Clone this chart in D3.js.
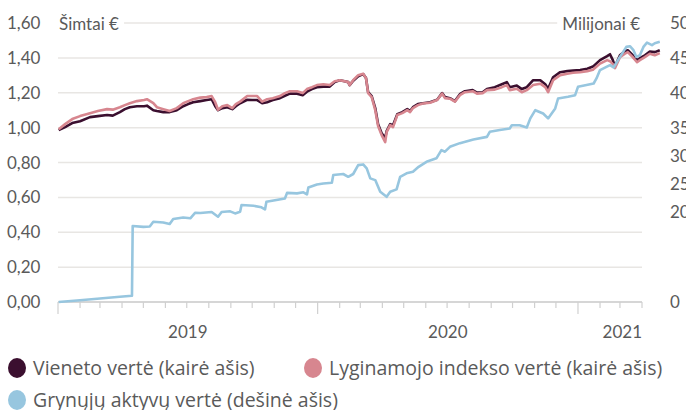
<!DOCTYPE html>
<html><head><meta charset="utf-8">
<script src="https://cdn.jsdelivr.net/npm/d3@7"></script>
<style>
html,body{margin:0;padding:0;background:#fff;}
svg{display:block;font-family:Lato, "Open Sans", sans-serif;}
</style></head>
<body>
<svg id="c" width="686" height="410"></svg>
<script>
// ---- DATA ----
const unitDates = ["2019-01-02","2019-01-11","2019-01-21","2019-02-01","2019-02-15","2019-02-26","2019-03-11","2019-03-19","2019-03-29","2019-04-05","2019-04-12","2019-04-22","2019-05-02","2019-05-06","2019-05-15","2019-05-20","2019-05-29","2019-06-07","2019-06-17","2019-06-26","2019-07-03","2019-07-10","2019-07-20","2019-07-29","2019-08-05","2019-08-10","2019-08-14","2019-08-20","2019-08-27","2019-09-03","2019-09-08","2019-09-14","2019-09-24","2019-10-01","2019-10-08","2019-10-15","2019-10-22","2019-10-30","2019-11-09","2019-11-16","2019-11-23","2019-12-03","2019-12-11","2019-12-17","2019-12-24","2019-12-31","2020-01-09","2020-01-18","2020-01-25","2020-02-01","2020-02-08","2020-02-13","2020-02-15","2020-02-20","2020-02-27","2020-03-05","2020-03-09","2020-03-12","2020-03-17","2020-03-22","2020-03-26","2020-03-31","2020-04-05","2020-04-07","2020-04-12","2020-04-16","2020-04-22","2020-04-29","2020-05-06","2020-05-10","2020-05-14","2020-05-21","2020-05-28","2020-06-07","2020-06-17","2020-06-24","2020-06-28","2020-07-05","2020-07-12","2020-07-19","2020-07-26","2020-08-06","2020-08-12","2020-08-20","2020-08-26","2020-09-06","2020-09-16","2020-09-23","2020-09-27","2020-10-07","2020-10-14","2020-10-21","2020-10-30","2020-11-09","2020-11-16","2020-11-20","2020-11-27","2020-12-07","2020-12-17","2020-12-25","2021-01-04","2021-01-14","2021-01-22","2021-02-01","2021-02-11","2021-02-15","2021-02-19","2021-02-22","2021-03-01","2021-03-08","2021-03-12","2021-03-19","2021-03-25","2021-03-29","2021-04-05","2021-04-12","2021-04-19","2021-04-26"];

const indexValues = [0.991,1.020,1.049,1.066,1.083,1.095,1.106,1.103,1.117,1.129,1.140,1.152,1.158,1.163,1.140,1.117,1.106,1.095,1.112,1.140,1.152,1.163,1.172,1.175,1.181,1.146,1.103,1.123,1.129,1.112,1.135,1.149,1.181,1.181,1.181,1.149,1.163,1.169,1.181,1.198,1.209,1.209,1.198,1.221,1.232,1.244,1.249,1.244,1.266,1.272,1.266,1.261,1.244,1.272,1.301,1.309,1.284,1.198,1.175,1.100,1.009,0.957,0.917,0.974,1.014,1.003,1.072,1.083,1.100,1.089,1.112,1.129,1.138,1.143,1.158,1.195,1.169,1.166,1.149,1.186,1.203,1.209,1.195,1.198,1.215,1.218,1.232,1.244,1.215,1.223,1.203,1.215,1.244,1.252,1.232,1.203,1.272,1.301,1.309,1.315,1.318,1.324,1.332,1.367,1.387,1.381,1.364,1.341,1.404,1.424,1.433,1.404,1.375,1.387,1.404,1.424,1.415,1.427];

const unitValues = [0.986,1.003,1.026,1.037,1.060,1.066,1.072,1.069,1.089,1.106,1.117,1.123,1.123,1.126,1.100,1.095,1.089,1.089,1.100,1.123,1.135,1.146,1.152,1.158,1.163,1.123,1.100,1.112,1.117,1.106,1.123,1.140,1.160,1.158,1.158,1.140,1.146,1.158,1.169,1.183,1.195,1.195,1.186,1.206,1.221,1.232,1.235,1.235,1.261,1.272,1.266,1.261,1.244,1.269,1.295,1.307,1.284,1.203,1.181,1.112,1.020,0.968,0.940,0.980,1.020,1.014,1.077,1.089,1.106,1.095,1.117,1.135,1.140,1.146,1.160,1.198,1.175,1.169,1.152,1.192,1.209,1.215,1.201,1.203,1.221,1.232,1.249,1.261,1.232,1.241,1.221,1.232,1.272,1.272,1.249,1.223,1.289,1.318,1.324,1.327,1.330,1.338,1.350,1.387,1.410,1.421,1.387,1.350,1.415,1.438,1.444,1.415,1.387,1.398,1.415,1.436,1.433,1.444];

const assetDates = ["2019-01-02","2019-02-01","2019-03-01","2019-03-29","2019-04-15","2019-04-16","2019-05-01","2019-05-10","2019-05-15","2019-05-29","2019-06-07","2019-06-12","2019-06-26","2019-07-06","2019-07-13","2019-07-20","2019-08-05","2019-08-14","2019-08-19","2019-08-31","2019-09-07","2019-09-14","2019-09-16","2019-10-03","2019-10-14","2019-10-19","2019-10-21","2019-11-04","2019-11-16","2019-11-19","2019-12-03","2019-12-12","2019-12-17","2019-12-19","2019-12-31","2020-01-09","2020-01-21","2020-01-23","2020-02-06","2020-02-13","2020-02-20","2020-02-27","2020-03-05","2020-03-10","2020-03-15","2020-03-22","2020-03-29","2020-04-07","2020-04-12","2020-04-21","2020-04-26","2020-05-05","2020-05-14","2020-05-22","2020-06-02","2020-06-16","2020-06-23","2020-06-28","2020-07-05","2020-07-19","2020-08-07","2020-08-26","2020-08-30","2020-09-13","2020-09-27","2020-09-30","2020-10-11","2020-10-21","2020-10-26","2020-11-02","2020-11-13","2020-11-20","2020-11-30","2020-12-04","2020-12-18","2020-12-28","2021-01-01","2021-01-13","2021-01-23","2021-01-27","2021-02-01","2021-02-10","2021-02-15","2021-02-20","2021-03-01","2021-03-10","2021-03-15","2021-03-20","2021-03-24","2021-03-29","2021-04-03","2021-04-08","2021-04-15","2021-04-19","2021-04-26"];

const assetValues = [0.000,0.010,0.020,0.030,0.036,0.436,0.431,0.433,0.460,0.456,0.447,0.476,0.485,0.480,0.512,0.510,0.516,0.489,0.516,0.520,0.508,0.517,0.556,0.552,0.543,0.531,0.575,0.585,0.594,0.626,0.623,0.629,0.617,0.657,0.674,0.680,0.684,0.728,0.734,0.718,0.734,0.785,0.789,0.766,0.709,0.699,0.632,0.603,0.632,0.646,0.718,0.738,0.747,0.775,0.804,0.824,0.871,0.862,0.890,0.911,0.932,0.947,0.976,0.986,0.995,1.014,1.014,1.001,1.053,1.100,1.081,1.053,1.110,1.167,1.177,1.186,1.234,1.244,1.253,1.282,1.330,1.348,1.358,1.345,1.406,1.463,1.467,1.444,1.406,1.415,1.463,1.487,1.473,1.484,1.492];

const leftTicks = [0, 0.2, 0.4, 0.6, 0.8, 1.0, 1.2, 1.4, 1.6];
const rightTicks = [0, 20, 25, 30, 35, 40, 45, 50];
const yearLabels = ["2019", "2020", "2021"];
const seriesNames = ["Vieneto vertė (kairė ašis)", "Lyginamojo indekso vertė (kairė ašis)", "Grynųjų aktyvų vertė (dešinė ašis)"];
const leftUnit = "Šimtai €";
const rightUnit = "Milijonai €";

// ---- CHART ----
const svg = d3.select("#c");
const parse = d3.timeParse("%Y-%m-%d");
const colors = {unit: "#3b0f2f", index: "#d7868f", assets: "#97c6df"};
const textColor = "#5a5a5a";

const x = d3.scaleTime().domain([new Date(2019,0,1), new Date(2021,3,1)]).range([58, 642]);
const y = d3.scaleLinear().domain([0, 1.6]).range([302, 23]);
const yR = d3.scaleLinear().domain([0, 20, 35, 50]).range([302, 212, 128, 23]);
const fmt = v => d3.format(".2f")(v).replace(".", ",");

// gridlines
svg.append("g").selectAll("line").data(leftTicks.filter(d => d > 0)).join("line")
  .attr("x1", x.range()[0]).attr("x2", x.range()[1])
  .attr("y1", d => y(d)).attr("y2", d => y(d))
  .attr("stroke", "#e8e6e3").attr("stroke-width", 1.5);

// left tick labels
svg.append("g").selectAll("text").data(leftTicks).join("text")
  .attr("x", 7).attr("y", d => y(d)).attr("dy", "0.36em")
  .attr("font-size", 17).attr("fill", textColor).text(fmt);

// right tick labels (clipped by the page edge, as in the original)
svg.append("g").selectAll("text").data(rightTicks).join("text")
  .attr("x", 670).attr("y", d => yR(d)).attr("dy", "0.36em")
  .attr("font-size", 17).attr("fill", textColor).text(d => String(d));

// x axis
const months = d3.timeMonth.range(new Date(2019,0,1), new Date(2021,3,2));
svg.append("line").attr("x1", x.range()[0]).attr("x2", x.range()[1]).attr("y1", y(0)).attr("y2", y(0))
  .attr("stroke", "#d6d6d6").attr("stroke-width", 2);
svg.append("g").selectAll("line").data(months).join("line")
  .attr("x1", d => x(d)).attr("x2", d => x(d))
  .attr("y1", y(0)).attr("y2", d => d.getMonth() === 0 ? y(0) + 12 : y(0) + 6)
  .attr("stroke", "#d0d0d0").attr("stroke-width", 1.2);

const yearStarts = yearLabels.map(s => new Date(+s, 0, 1));
svg.append("g").selectAll("text").data(yearLabels).join("text")
  .attr("y", 338).attr("font-size", 17).attr("fill", textColor)
  .attr("x", (d, i) => {
    const a = x(yearStarts[i]);
    const b = i < yearLabels.length - 1 ? x(yearStarts[i + 1]) : x.range()[1];
    return i < yearLabels.length - 1 ? (a + b) / 2 : b;
  })
  .attr("text-anchor", (d, i) => i < yearLabels.length - 1 ? "middle" : "end")
  .text(d => d);

// lines
const unitData = unitDates.map((d, i) => ({date: parse(d), v: unitValues[i]}));
const indexData = unitDates.map((d, i) => ({date: parse(d), v: indexValues[i]}));
const assetData = assetDates.map((d, i) => ({date: parse(d), v: assetValues[i]}));
const line = d3.line().x(d => x(d.date)).y(d => y(d.v));

[[unitData, colors.unit], [indexData, colors.index], [assetData, colors.assets]].forEach(([data, c]) => {
  svg.append("path").datum(data).attr("d", line).attr("fill", "none")
    .attr("stroke", c).attr("stroke-width", 2.6).attr("stroke-linejoin", "round");
});

// unit labels with white backing over the top gridline
function unitLabel(txt, xp, anchor) {
  const bg = svg.append("rect").attr("fill", "#fff");
  const t = svg.append("text").attr("x", xp).attr("y", 30).attr("text-anchor", anchor)
    .attr("font-size", 17).attr("fill", textColor).text(txt);
  const b = t.node().getBBox();
  bg.attr("x", b.x - 5).attr("y", y(1.6) - 3).attr("width", b.width + 10).attr("height", 6);
}
unitLabel(leftUnit, 59, "start");
unitLabel(rightUnit, 640, "end");

// legend
const legendPos = [[17, 368], [313, 368], [17, 400]];
const legendColors = [colors.unit, colors.index, colors.assets];
const lg = svg.append("g").selectAll("g").data(seriesNames).join("g")
  .attr("transform", (d, i) => `translate(${legendPos[i][0]},${legendPos[i][1]})`);
lg.append("ellipse").attr("rx", 9).attr("ry", 10).attr("fill", (d, i) => legendColors[i]);
lg.append("text").attr("x", 16).attr("dy", "0.36em").attr("font-size", 19.5)
  .attr("font-family", "'Open Sans', sans-serif").attr("fill", textColor).text(d => d);
</script>
</body></html>
